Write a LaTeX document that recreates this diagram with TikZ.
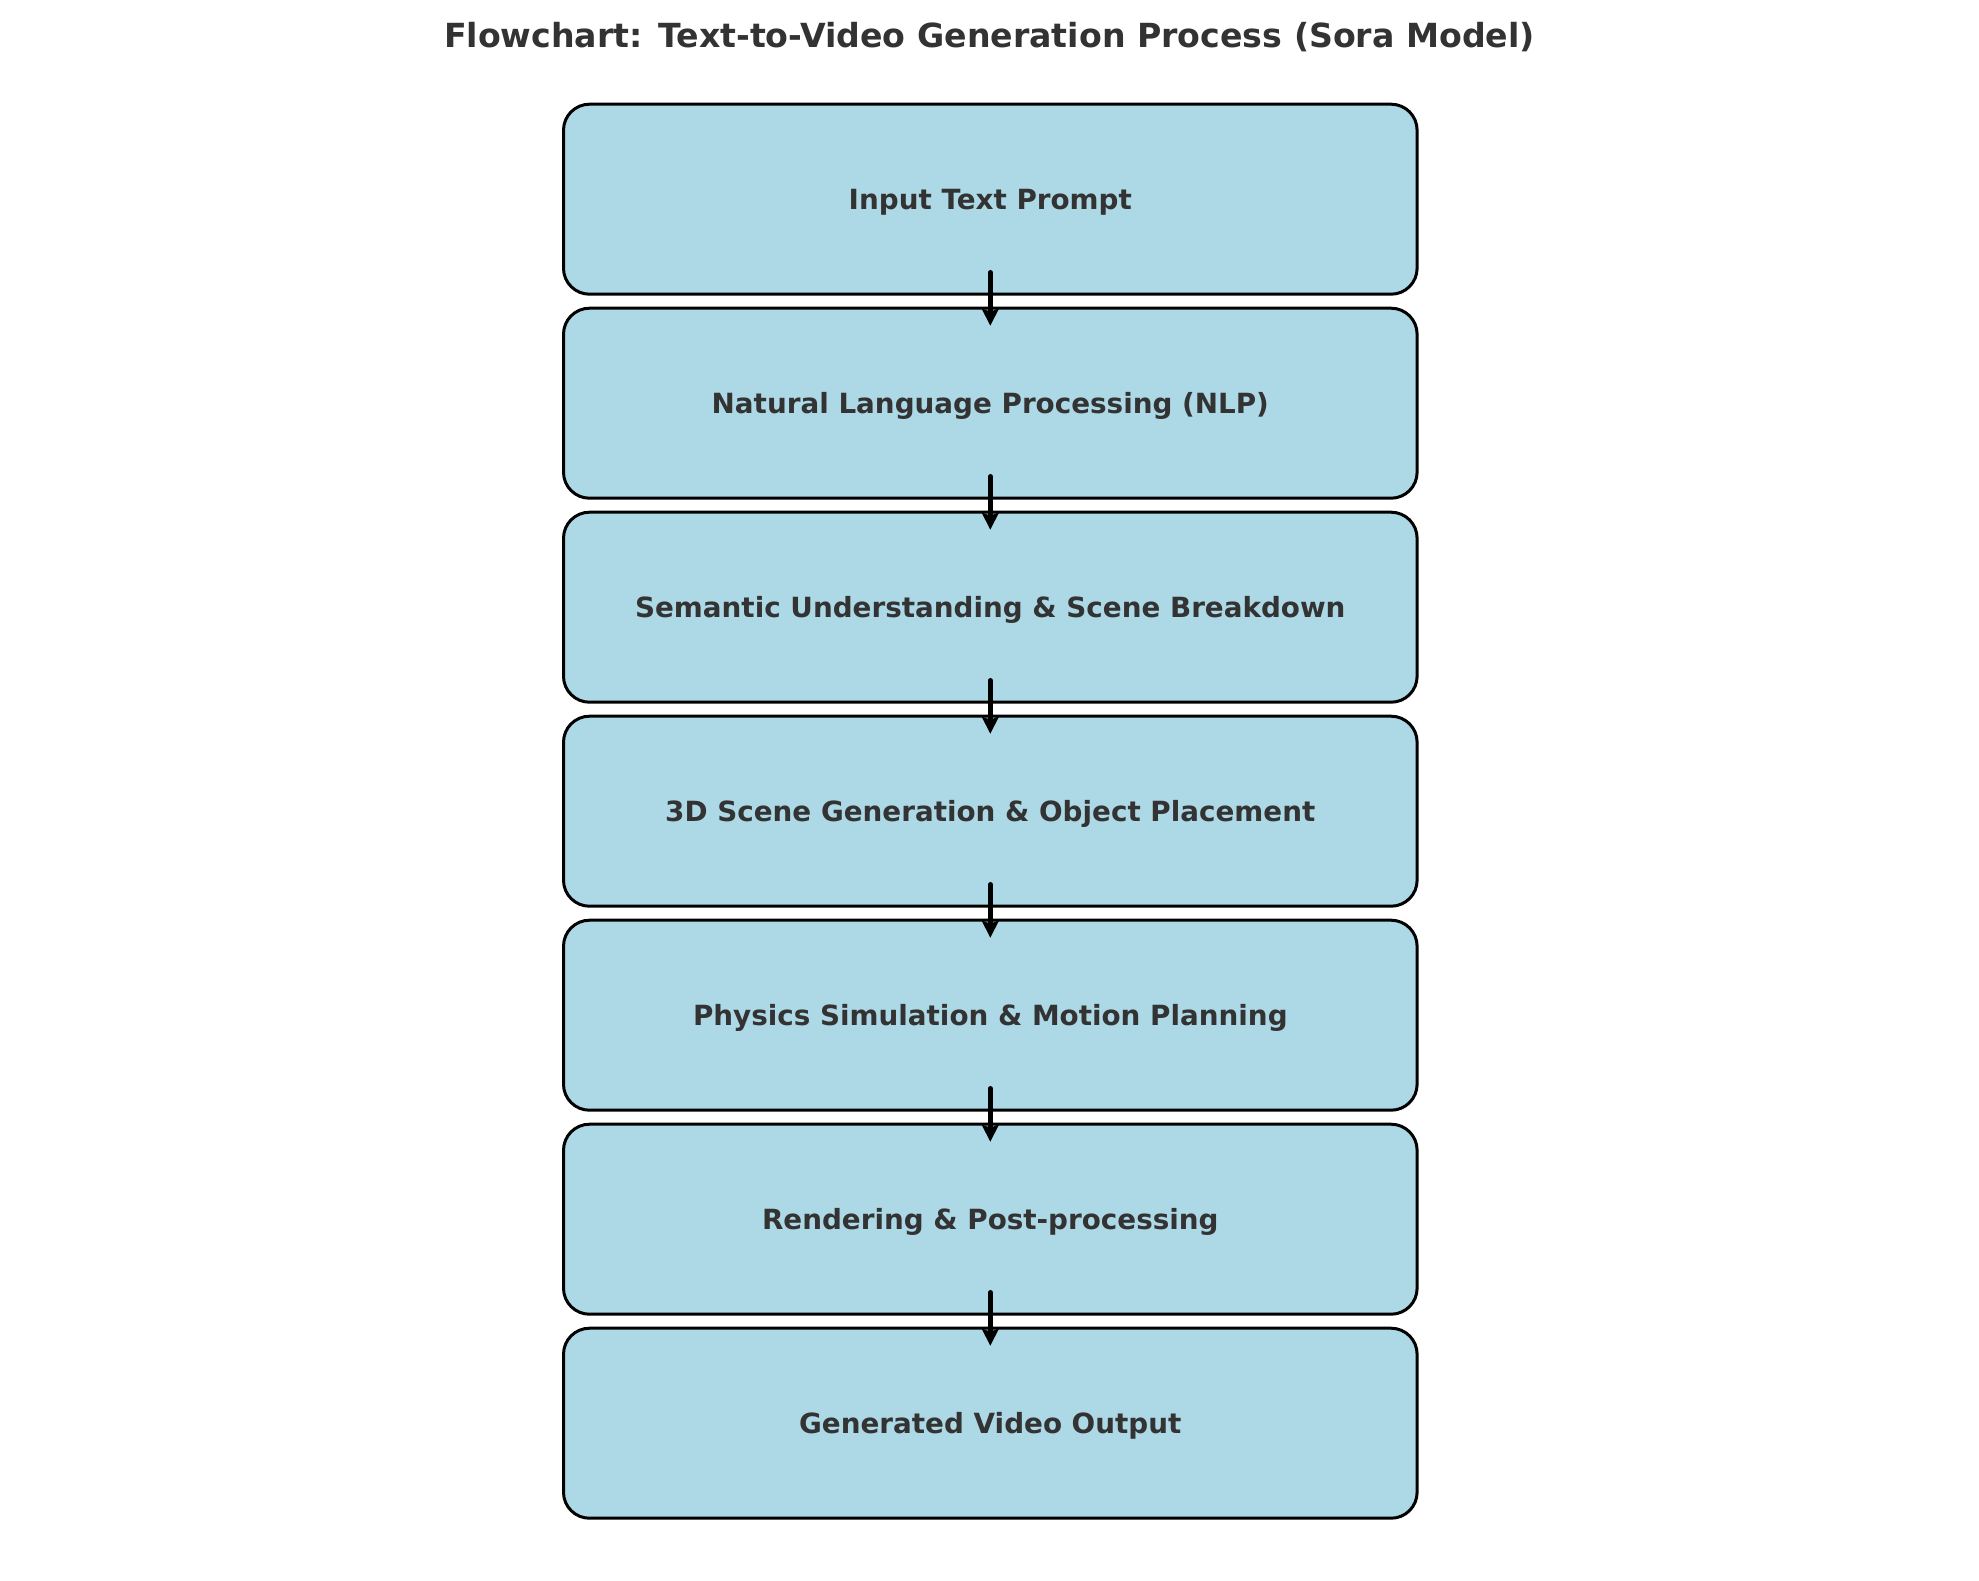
\documentclass[tikz,border=0pt]{standalone}
\usepackage{fontspec}
\setmainfont{DejaVu Sans}
\usetikzlibrary{arrows.meta,positioning}
\definecolor{boxblue}{HTML}{ADD8E6}
\definecolor{textgray}{HTML}{333333}

\begin{document}
\begin{tikzpicture}[x=0.5pt, y=-0.5pt,
            stage/.style={draw=black, line width=1.5pt, fill=boxblue,
                rounded corners=13pt, minimum width=426.8pt, minimum height=95pt,
                inner sep=0pt, text depth=0pt, text=textgray,
                font=\fontsize{13.9}{16}\selectfont\bfseries},
            flow/.style={line width=2.5pt, line cap=round,
                -{Stealth[length=8.5pt, width=8.5pt, inset=1.5pt]}}]
            \useasboundingbox (0,0) rectangle (1979,1580);
            \node[text=textgray, font=\fontsize{16.6}{19}\selectfont\bfseries] (title) at (989.5,37)
                {Flowchart: Text-to-Video Generation Process (Sora Model)};
            \node[stage] (input) at (990.3,199.2) {Input Text Prompt};
            \node[stage, below=5.5pt of input] (nlp) {Natural Language Processing (NLP)};
            \node[stage, below=5.5pt of nlp] (semantic) {Semantic Understanding \& Scene Breakdown};
            \node[stage, below=5.5pt of semantic] (scene) {3D Scene Generation \& Object Placement};
            \node[stage, below=5.5pt of scene] (physics) {Physics Simulation \& Motion Planning};
            \node[stage, below=5.5pt of physics] (render) {Rendering \& Post-processing};
            \node[stage, below=5.5pt of render] (output) {Generated Video Output};
            \foreach \a/\b in {input/nlp, nlp/semantic, semantic/scene, scene/physics,
                physics/render, render/output}
                \draw[flow] ([yshift=11.6pt]\a.south) -- ([yshift=-9.5pt]\b.north);
        \end{tikzpicture}
\end{document}
